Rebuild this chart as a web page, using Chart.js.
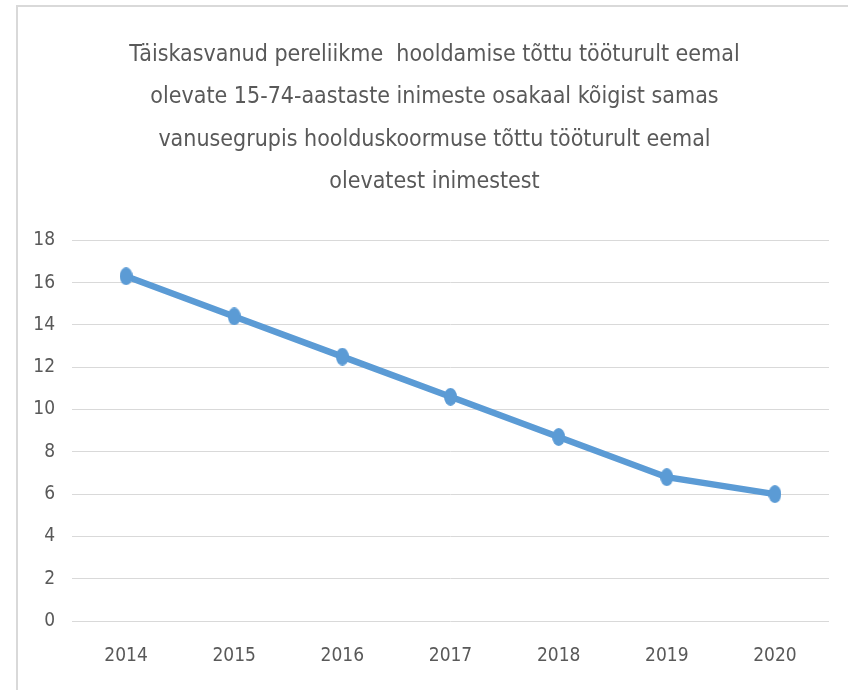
<!DOCTYPE html>
<html>
<head>
<meta charset="utf-8">
<script src="https://cdn.jsdelivr.net/npm/chart.js@4/dist/chart.umd.min.js"></script>
<style>
  html, body { margin: 0; padding: 0; background: #fff; }
  #wrap { position: relative; width: 848px; height: 690px; }
  #frame {
    position: absolute; left: 16px; top: 5px; right: -10px; bottom: -10px;
    border-top: 2px solid #d9d9d9; border-left: 2px solid #d9d9d9;
  }
  canvas { position: absolute; left: 0; top: 0; }
</style>
</head>
<body>
<div id="wrap">
  <div id="frame"></div>
  <canvas id="chart" width="848" height="690"></canvas>
</div>
<script>
// Chart data
const years = ['2014', '2015', '2016', '2017', '2018', '2019', '2020'];
const shares = [16.3, 14.4, 12.5, 10.6, 8.7, 6.8, 6.0];
const titleLines = [
    'Täiskasvanud pereliikme  hooldamise tõttu tööturult eemal',
    'olevate 15-74-aastaste inimeste osakaal kõigist samas',
    'vanusegrupis hoolduskoormuse tõttu tööturult eemal',
    'olevatest inimestest'
];

const FONT = "'DejaVu Sans Condensed', 'Liberation Sans Narrow', 'Noto Sans', sans-serif";
const TEXT = '#595959';
const BLUE = '#5b9bd5';

// markers in the reference are slightly taller than wide
function makeMarker() {
    const c = document.createElement('canvas');
    c.width = 13;
    c.height = 18;
    const g = c.getContext('2d');
    g.fillStyle = BLUE;
    g.beginPath();
    g.ellipse(6.5, 9, 6.5, 9, 0, 0, Math.PI * 2);
    g.fill();
    return c;
}

// the title in the reference is centred a bit right of the canvas middle
const shiftTitle = {
    id: 'shiftTitle',
    afterLayout(chart) {
        if (chart.titleBlock) chart.titleBlock.left += 40;
    }
};

document.addEventListener('DOMContentLoaded', function () {
    const ctx = document.getElementById('chart').getContext('2d');

    new Chart(ctx, {
        type: 'line',
        data: {
            labels: years,
            datasets: [{
                data: shares,
                borderColor: BLUE,
                backgroundColor: BLUE,
                borderWidth: 6.5,
                pointStyle: makeMarker(),
                tension: 0,
                fill: false
            }]
        },
        options: {
            responsive: false,
            animation: false,
            layout: { padding: { left: 0, right: 19, top: 0, bottom: 0 } },
            plugins: {
                legend: { display: false },
                tooltip: { enabled: false },
                title: {
                    display: true,
                    text: titleLines,
                    color: TEXT,
                    font: { family: FONT, size: 23, weight: 'normal', lineHeight: 1.84 },
                    padding: { top: 34, bottom: 37 }
                }
            },
            scales: {
                x: {
                    offset: true,
                    grid: { display: false, drawTicks: false },
                    border: { display: false },
                    ticks: {
                        color: TEXT,
                        padding: 24,
                        maxRotation: 0,
                        font: { family: FONT, size: 19 }
                    },
                    afterFit: function (scale) { scale.height = 69; }
                },
                y: {
                    min: 0,
                    max: 18,
                    grid: { color: '#d9d9d9', lineWidth: 1, drawTicks: false },
                    border: { display: false },
                    ticks: {
                        stepSize: 2,
                        color: TEXT,
                        padding: 17,
                        font: { family: FONT, size: 19 }
                    },
                    afterFit: function (scale) { scale.width = 72; }
                }
            }
        },
        plugins: [shiftTitle]
    });
});
</script>
</body>
</html>
